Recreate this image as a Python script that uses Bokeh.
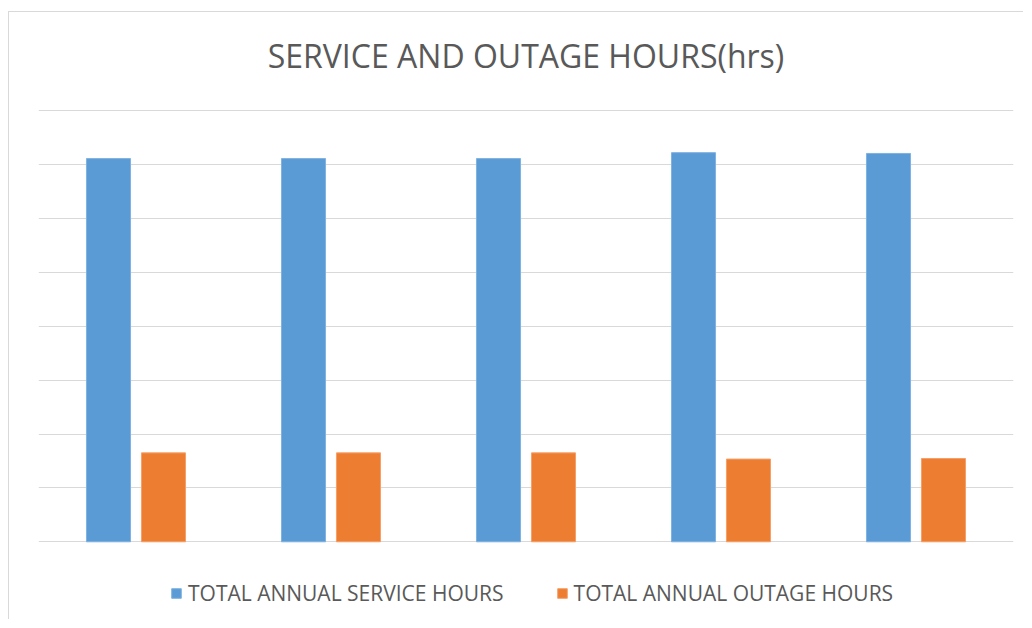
from bokeh.plotting import figure
from bokeh.models import FactorRange, Range1d, FixedTicker, Legend, LegendItem, ColumnDataSource
from bokeh.core.properties import value
from bokeh.transform import dodge
from bokeh.embed import file_html
from bokeh.resources import INLINE

categories = ["1", "2", "3", "4", "5"]
service_hours = [7110, 7110, 7110, 7220, 7205]
outage_hours = [1650, 1650, 1650, 1535, 1545]
grid_ticks = [0, 1000, 2000, 3000, 4000, 5000, 6000, 7000, 8000]
series_names = ["TOTAL ANNUAL SERVICE HOURS", "TOTAL ANNUAL OUTAGE HOURS"]
title_text = "SERVICE AND OUTAGE HOURS(hrs)"

src = ColumnDataSource(dict(cat=categories, service=service_hours, outage=outage_hours))

p = figure(
    width=1015, height=608, title=None,
    x_range=FactorRange(factors=categories, range_padding=0),
    y_range=Range1d(-1460, 9820),
    output_backend="svg", toolbar_location=None,
    min_border_left=29, min_border_right=11, min_border_top=0, min_border_bottom=0,
)
p.styles = {"border-left": "1px solid #d9d9d9", "border-top": "1px solid #d9d9d9",
            "margin-top": "11px", "margin-left": "8px"}

p.xaxis.visible = False
p.yaxis.visible = False
p.xgrid.visible = False
p.ygrid.ticker = FixedTicker(ticks=grid_ticks)
p.ygrid.grid_line_color = "#d9d9d9"
p.ygrid.grid_line_width = 1
p.outline_line_color = None

# chart title, centred over the plot area
p.text(x=[categories[2]], y=[9030], text=[title_text], text_align="center",
       text_baseline="middle", text_font=value("Open Sans"), text_font_size="32px",
       text_color="#595959")

r1 = p.vbar(x=dodge("cat", -0.141, range=p.x_range), top="service", width=0.226, source=src,
            fill_color="#5B9BD5", line_color="#7fb2e0", line_width=1)
r2 = p.vbar(x=dodge("cat", 0.141, range=p.x_range), top="outage", width=0.226, source=src,
            fill_color="#ED7D31", line_color="#f5a06a", line_width=1)

legend = Legend(items=[LegendItem(label=series_names[0], renderers=[r1]),
                       LegendItem(label=series_names[1], renderers=[r2])],
                location=(132, 13), orientation="horizontal")
legend.border_line_color = None
legend.background_fill_alpha = 0
legend.padding = 0
legend.margin = 0
legend.spacing = 52
legend.glyph_width = 12
legend.glyph_height = 12
legend.label_standoff = 6
legend.label_text_font = "Open Sans"
legend.label_text_font_size = "21px"
legend.label_text_color = "#595959"
legend.label_height = 22
p.add_layout(legend)

open("out.html", "w").write(file_html(p, INLINE))
